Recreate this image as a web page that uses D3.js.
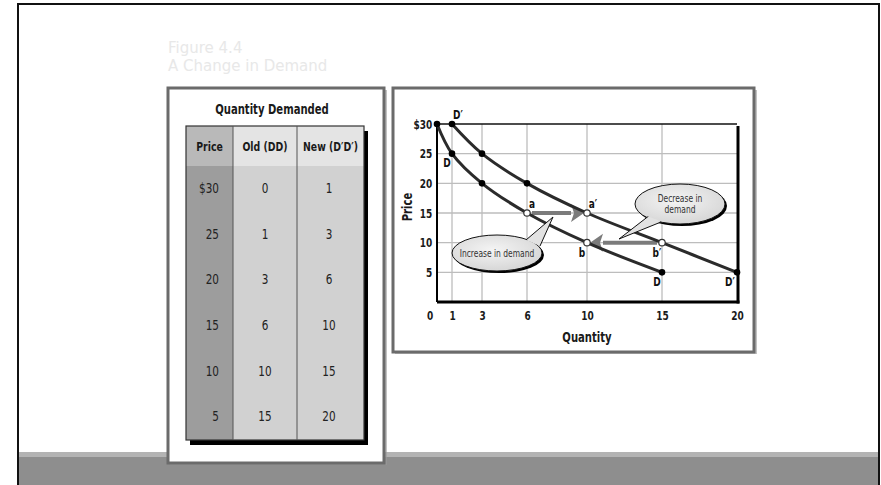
<!DOCTYPE html>
<html lang="en">
  <head>
    <meta charset="UTF-8" />
    <title>Figure 4.4 A Change in Demand</title>
    <script src="https://d3js.org/d3.v7.min.js"></script>
    <style>
      body {
        margin: 0;
        background: #fff;
      }
      .cond {
        font-family: "DejaVu Sans Condensed", "DejaVu Sans", sans-serif;
      }
    </style>
  </head>
  <body>
    <svg id="fig" width="881" height="485"></svg>

    <script>
      // Schedule data
      const prices = [30, 25, 20, 15, 10, 5];
      const oldQty = [0, 1, 3, 6, 10, 15];
      const newQty = [1, 3, 6, 10, 15, 20];
      const tableHeaders = ["Price", "Old (DD)", "New (D\u2032D\u2032)"];

      // Axis ticks
      const xTicks = [0, 1, 3, 6, 10, 15, 20];
      const yTicks = [5, 10, 15, 20, 25, 30];

      // Points shown as open circles (quantity, price)
      const openPoints = [
        [6, 15],
        [10, 15],
        [10, 10],
        [15, 10],
      ];

      const svg = d3.select("#fig");
      const SX = 0.8; // squeeze for the narrow book font

      // text helper: narrow text at x,y
      function ntext(parent, x, y, str, size, bold, anchor) {
        return parent.append("text")
          .attr("class", "cond")
          .attr("transform", `translate(${x},${y}) scale(${SX},1)`)
          .attr("text-anchor", anchor || "middle")
          .style("font-size", size + "px")
          .style("font-weight", bold ? "bold" : "normal")
          .attr("fill", "#1a1a1a")
          .text(str);
      }

      // outer frame and bottom band
      svg.append("rect")
        .attr("x", 19).attr("y", 452).attr("width", 860).attr("height", 40)
        .attr("fill", "#8e8e8e");
      svg.append("rect")
        .attr("x", 19).attr("y", 452).attr("width", 860).attr("height", 5)
        .attr("fill", "#b3b3b3");
      svg.append("rect")
        .attr("x", 18).attr("y", 4).attr("width", 861).attr("height", 500)
        .attr("fill", "none").attr("stroke", "#111").attr("stroke-width", 2);

      // faint title
      svg.append("text")
        .attr("x", 168).attr("y", 53)
        .style("font-family", "DejaVu Sans, sans-serif")
        .style("font-size", "15px").attr("fill", "#e8e8e8")
        .text("Figure 4.4");
      svg.append("text")
        .attr("x", 168).attr("y", 71)
        .style("font-family", "DejaVu Sans, sans-serif")
        .style("font-size", "15px").attr("fill", "#e8e8e8")
        .text("A Change in Demand");

      // ---------- Table panel ----------
      svg.append("rect")
        .attr("x", 170).attr("y", 90).attr("width", 217).attr("height", 375)
        .attr("fill", "#999").attr("opacity", 0.6);
      svg.append("rect")
        .attr("x", 168).attr("y", 88).attr("width", 216).attr("height", 375)
        .attr("fill", "#fff").attr("stroke", "#6b6b6b").attr("stroke-width", 3);

      ntext(svg, 272, 114, "Quantity Demanded", 14, true);

      const colX = d3.scaleOrdinal().domain([0, 1, 2]).range([186, 233, 297]);
      const colW = [47, 64, 67];
      const tTop = 126, tHead = 166, tBottom = 440;
      const rowY = d3.scaleBand().domain(prices).range([tHead, tBottom]);

      // shadow
      svg.append("rect")
        .attr("x", 190).attr("y", 131).attr("width", 178).attr("height", tBottom - tTop)
        .attr("fill", "#000");

      const headFill = ["#b9b9b9", "#e4e4e4", "#e4e4e4"];
      const bodyFill = ["#9d9d9d", "#d1d1d1", "#d1d1d1"];
      [0, 1, 2].forEach((c) => {
        svg.append("rect")
          .attr("x", colX(c)).attr("y", tTop).attr("width", colW[c]).attr("height", tHead - tTop)
          .attr("fill", headFill[c]);
        svg.append("rect")
          .attr("x", colX(c)).attr("y", tHead).attr("width", colW[c]).attr("height", tBottom - tHead)
          .attr("fill", bodyFill[c]);
      });
      svg.append("rect")
        .attr("x", 186).attr("y", tTop).attr("width", 178).attr("height", tBottom - tTop)
        .attr("fill", "none").attr("stroke", "#333").attr("stroke-width", 1.2);
      [1, 2].forEach((c) => {
        svg.append("line")
          .attr("x1", colX(c)).attr("x2", colX(c)).attr("y1", tTop).attr("y2", tBottom)
          .attr("stroke", "#555").attr("stroke-width", 1);
      });

      tableHeaders.forEach((h, i) => {
        ntext(svg, colX(i) + colW[i] / 2, 151, h, 13, true);
      });

      const rowData = prices.map((p, i) => ({ p, o: oldQty[i], n: newQty[i] }));
      rowData.forEach((d) => {
        const cy = rowY(d.p) + rowY.bandwidth() / 2 + 4;
        ntext(svg, 219, cy, d.p === 30 ? "$30" : d.p, 14.5, false, "end").attr("fill", "#222");
        ntext(svg, 265, cy, d.o, 14.5, false).attr("fill", "#222");
        ntext(svg, 329, cy, d.n, 14.5, false).attr("fill", "#222");
      });

      // ---------- Chart panel ----------
      svg.append("rect")
        .attr("x", 395).attr("y", 90).attr("width", 362).attr("height", 264)
        .attr("fill", "#999").attr("opacity", 0.6);
      svg.append("rect")
        .attr("x", 393).attr("y", 88).attr("width", 361).attr("height", 264)
        .attr("fill", "#fff").attr("stroke", "#6b6b6b").attr("stroke-width", 3);

      const x = d3.scaleLinear().domain([0, 20]).range([437, 737]);
      const y = d3.scaleLinear().domain([0, 30]).range([302, 124]);

      // grid
      svg.append("g")
        .selectAll("line")
        .data(xTicks.filter((d) => d > 0 && d < 20))
        .enter()
        .append("line")
        .attr("x1", (d) => x(d)).attr("x2", (d) => x(d))
        .attr("y1", y(30)).attr("y2", y(0))
        .attr("stroke", "#bdbdbd").attr("stroke-width", 1.3);
      svg.append("g")
        .selectAll("line")
        .data(yTicks.filter((d) => d < 30))
        .enter()
        .append("line")
        .attr("x1", x(0)).attr("x2", x(20))
        .attr("y1", (d) => y(d)).attr("y2", (d) => y(d))
        .attr("stroke", "#bdbdbd").attr("stroke-width", 1.3);

      // plot frame
      svg.append("line")
        .attr("x1", x(0)).attr("x2", x(20)).attr("y1", y(30)).attr("y2", y(30))
        .attr("stroke", "#111").attr("stroke-width", 1.5);
      svg.append("line")
        .attr("x1", x(20) + 1).attr("x2", x(20) + 1).attr("y1", y(30) + 2).attr("y2", y(0) + 1.5)
        .attr("stroke", "#000").attr("stroke-width", 3);
      svg.append("line")
        .attr("x1", x(0)).attr("x2", x(20) + 2.5).attr("y1", y(0)).attr("y2", y(0))
        .attr("stroke", "#000").attr("stroke-width", 3);
      svg.append("line")
        .attr("x1", x(0)).attr("x2", x(0)).attr("y1", y(30)).attr("y2", y(0))
        .attr("stroke", "#000").attr("stroke-width", 2);

      // axes (labels only)
      const yAxis = svg.append("g")
        .attr("transform", `translate(${x(0)},0)`)
        .call(d3.axisLeft(y).tickValues(yTicks).tickSize(0).tickPadding(6)
          .tickFormat((d) => (d === 30 ? "$30" : d)));
      const xAxis = svg.append("g")
        .attr("transform", `translate(0,${y(0)})`)
        .call(d3.axisBottom(x).tickValues(xTicks).tickSize(0).tickPadding(9));
      [xAxis, yAxis].forEach((a) => {
        a.select(".domain").remove();
        a.selectAll("text")
          .attr("class", "cond")
          .attr("transform", `scale(${SX},1)`)
          .style("font-size", "12.5px").style("font-weight", "bold").attr("fill", "#1a1a1a");
      });
      xAxis.selectAll(".tick").filter((d) => d === 0)
        .attr("transform", `translate(${x(0) - 7},0)`);

      ntext(svg, x(10), 342, "Quantity", 14, true);
      svg.append("text")
        .attr("class", "cond")
        .attr("transform", `translate(412,207) rotate(-90) scale(${SX},1)`)
        .attr("text-anchor", "middle")
        .style("font-size", "14px").style("font-weight", "bold").attr("fill", "#1a1a1a")
        .text("Price");

      // arrows
      function arrow(q0, q1, p) {
        const dir = q1 > q0 ? 1 : -1;
        const xs = x(q0) + dir * 5;
        const xt = x(q1) - dir * 3;
        const xb = xt - dir * 13;
        svg.append("line")
          .attr("x1", xs).attr("x2", xb).attr("y1", y(p)).attr("y2", y(p))
          .attr("stroke", "#7b7b7b").attr("stroke-width", 4);
        svg.append("path")
          .attr("d", `M${xt},${y(p)} L${xb},${y(p) - 9} L${xb + dir * 3},${y(p)} L${xb},${y(p) + 9} Z`)
          .attr("fill", "#7b7b7b");
      }
      arrow(6, 10, 15);
      arrow(15, 10, 10);

      // demand curves
      const line = d3.line()
        .x((d) => x(d[0]))
        .y((d) => y(d[1]))
        .curve(d3.curveCatmullRom);
      const oldPts = oldQty.map((q, i) => [q, prices[i]]);
      const newPts = newQty.map((q, i) => [q, prices[i]]);
      [oldPts, newPts].forEach((pts) => {
        svg.append("path")
          .attr("d", line(pts))
          .attr("fill", "none").attr("stroke", "#2b2b2b").attr("stroke-width", 3);
      });

      const isOpen = (d) => openPoints.some((o) => o[0] === d[0] && o[1] === d[1]);
      svg.selectAll(".pt")
        .data(oldPts.concat(newPts))
        .enter()
        .append("circle")
        .attr("cx", (d) => x(d[0])).attr("cy", (d) => y(d[1]))
        .attr("r", (d) => (isOpen(d) ? 3.2 : 3.3))
        .attr("fill", (d) => (isOpen(d) ? "#fff" : "#000"))
        .attr("stroke", (d) => (isOpen(d) ? "#333" : "none"))
        .attr("stroke-width", 1.2);

      // point labels
      const labels = [
        { t: "D\u2032", q: 1, p: 30, dx: 6, dy: -5 },
        { t: "D", q: 1, p: 25, dx: -5, dy: 13 },
        { t: "a", q: 6, p: 15, dx: 5, dy: -5 },
        { t: "a\u2032", q: 10, p: 15, dx: 6, dy: -5 },
        { t: "b", q: 10, p: 10, dx: -5, dy: 14 },
        { t: "b\u2032", q: 15, p: 10, dx: -5, dy: 14 },
        { t: "D", q: 15, p: 5, dx: -5, dy: 14 },
        { t: "D\u2032", q: 20, p: 5, dx: -7, dy: 14 },
      ];
      labels.forEach((d) => {
        ntext(svg, x(d.q) + d.dx, y(d.p) + d.dy, d.t, 12.5, true).attr("fill", "#111");
      });

      // speech bubbles
      const defs = svg.append("defs");
      const grad = defs.append("radialGradient").attr("id", "bub")
        .attr("cx", "45%").attr("cy", "40%").attr("r", "65%");
      grad.append("stop").attr("offset", "0%").attr("stop-color", "#f4f4f4");
      grad.append("stop").attr("offset", "100%").attr("stop-color", "#d6d6d6");

      function bubble(cx, cy, rx, ry, tail, lines) {
        const g = svg.append("g");
        g.append("ellipse")
          .attr("cx", cx + 2).attr("cy", cy + 2).attr("rx", rx).attr("ry", ry)
          .attr("fill", "#000");
        g.append("ellipse")
          .attr("cx", cx).attr("cy", cy).attr("rx", rx).attr("ry", ry)
          .attr("fill", "url(#bub)").attr("stroke", "#111").attr("stroke-width", 1);
        g.append("path")
          .attr("d", `M${tail[0][0]},${tail[0][1]} L${tail[1][0]},${tail[1][1]} L${tail[2][0]},${tail[2][1]}`)
          .attr("fill", "#e2e2e2").attr("stroke", "#111").attr("stroke-width", 1);
        g.append("ellipse")
          .attr("cx", cx).attr("cy", cy).attr("rx", rx - 1.5).attr("ry", ry - 1.5)
          .attr("fill", "url(#bub)");
        lines.forEach((t, i) => {
          ntext(g, cx, cy + (i - (lines.length - 1) / 2) * 11 + 3.5, t, 10.5, false).attr("fill", "#333");
        });
      }
      bubble(497, 253, 45, 18, [[526, 240], [553, 217], [540, 246]], ["Increase in demand"]);
      bubble(680, 204, 45, 20, [[650, 215], [619, 239], [661, 222]], ["Decrease in", "demand"]);
    </script>
  </body>
</html>
